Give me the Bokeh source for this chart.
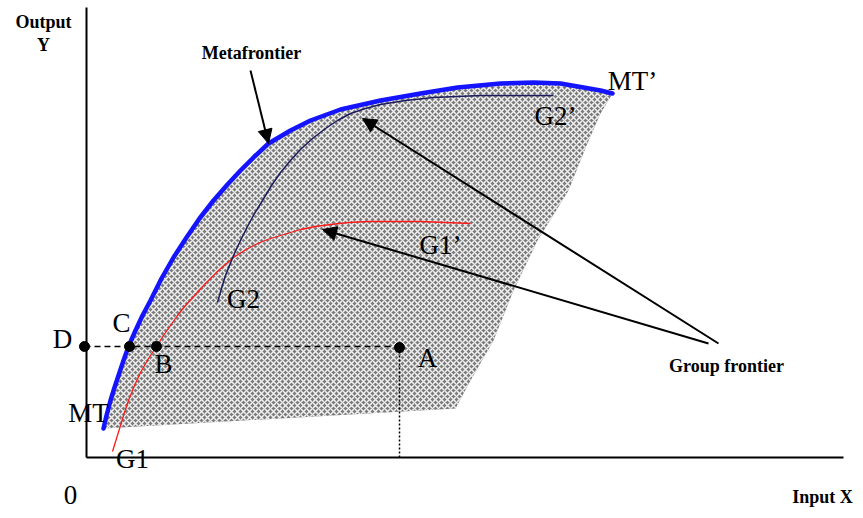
from bokeh.plotting import figure
from bokeh.models import Range1d, Arrow, NormalHead
from bokeh.core.properties import value
from bokeh.embed import file_html
from bokeh.resources import INLINE

# Diagram units: X = input (to the right of the origin), Y = output (above the origin)
# Metafrontier MT - MT'
meta_x = [17, 20, 24, 28, 32, 37, 42, 49, 56, 64, 75, 87, 100, 113, 127, 141, 154, 168, 182,
          204, 224, 254, 294, 334, 371, 414, 447, 474, 497, 514, 526]
meta_y = [29, 42, 57, 70, 82, 97, 111, 127, 142, 157, 179, 200, 220, 239, 257, 273, 287, 301, 314,
          327, 337, 348, 357, 364, 370, 374, 375, 374, 370, 367, 364]

# Right and bottom edges of the shaded technology set (from MT' back to MT)
edge_x = [514, 500, 482, 451, 427, 407, 384, 369, 17]
edge_y = [344, 312, 267, 217, 167, 117, 77, 49, 29]

# Group frontier G2 - G2'
g2_x = [131, 135, 139, 143, 147, 154, 161, 168, 176, 185, 194, 204, 214, 226, 239, 251, 264,
        279, 294, 319, 347, 394, 467]
g2_y = [155, 169, 182, 192, 202, 217, 231, 244, 257, 272, 285, 297, 308, 319, 329, 337, 344,
        349, 353, 357, 360, 362, 362]

# Group frontier G1 - G1'
g1_x = [26, 30, 34, 38, 42, 48, 54, 62, 70, 77, 84, 91, 99, 109, 119, 132, 147, 158, 169, 181,
        194, 214, 229, 244, 262, 281, 334, 384]
g1_y = [6, 19, 32, 45, 57, 72, 85, 99, 111, 122, 132, 142, 152, 163, 174, 187, 200, 207, 213, 218,
        222, 228, 231, 233, 235, 236, 236, 234]

# Points D, C, B, A
pt_names = ["D", "C", "B", "A"]
pt_x = [-2, 43, 70, 313]
pt_y = [111, 111, 111, 110]

# Text labels
lab_text = ["MT’", "G2’", "G1’", "G2", "G1", "MT", "C", "D", "B", "A", "0"]
lab_x = [546, 469, 354, 157, 46, 2, 35, -24, 77, 341, -16]
lab_y = [377, 342, 213, 159, -1, 45, 135, 119, 94, 100, -37]

bold_text = ["Output", "Y", "Metafrontier", "Group frontier", "Input X"]
bold_x = [-43, -43, 165, 640, 736]
bold_y = [436, 413, 405, 92, -39]

# Arrows: start and end points
arr_x0 = [164, 632, 622]
arr_y0 = [387, 114, 114]
arr_x1 = [182, 276, 236]
arr_y1 = [314, 339, 228]

# Axes
yaxis_x = [0, 0]
yaxis_y = [450, 0]
xaxis_x = [0, 757]
xaxis_y = [0, 0]

p = figure(width=855, height=510, output_backend="svg", toolbar_location=None,
           x_axis_location=None, y_axis_location=None, min_border=0,
           x_range=Range1d(-86, 769), y_range=Range1d(-53, 457))
p.grid.visible = False
p.outline_line_color = None
p.background_fill_color = "white"
p.border_fill_color = "white"

# shaded region
poly_x = meta_x + edge_x
poly_y = meta_y + edge_y
p.patch(poly_x, poly_y, fill_color="#7a7a7a", line_color=None,
        hatch_pattern="x", hatch_color="white", hatch_scale=6, hatch_weight=1.5, hatch_alpha=0.9)

# axes
p.line(yaxis_x, yaxis_y, line_color="black", line_width=2)
p.line(xaxis_x, xaxis_y, line_color="black", line_width=2)

# dashed and dotted guides
p.line([pt_x[0], pt_x[3]], [pt_y[0], pt_y[0]], line_color="black", line_width=1.5, line_dash="6 4")
p.line([pt_x[3], pt_x[3]], [pt_y[3], 0], line_color="black", line_width=1.5, line_dash="2 2")

# frontiers
p.line(g1_x, g1_y, line_color="#ff1a1a", line_width=1.3)
p.line(g2_x, g2_y, line_color="#1c1c5e", line_width=1.5)
p.line(meta_x, meta_y, line_color="#1414ff", line_width=4.5, line_cap="round", line_join="round")

# points
p.scatter(pt_x, pt_y, size=10, color="black")

# arrows
for x0, y0, x1, y1 in zip(arr_x0, arr_y0, arr_x1, arr_y1):
    p.add_layout(Arrow(end=NormalHead(size=14, fill_color="black", line_color="black"),
                       x_start=x0, y_start=y0, x_end=x1, y_end=y1,
                       line_color="black", line_width=2))

p.text(lab_x, lab_y, text=lab_text, text_font=value("Liberation Serif"),
       text_font_size="27px", text_align="center", text_baseline="middle", text_color="black")
p.text(bold_x, bold_y, text=bold_text, text_font=value("Liberation Serif"),
       text_font_size="18px", text_font_style="bold", text_align="center",
       text_baseline="middle", text_color="black")

open("out.html", "w").write(file_html(p, INLINE))
